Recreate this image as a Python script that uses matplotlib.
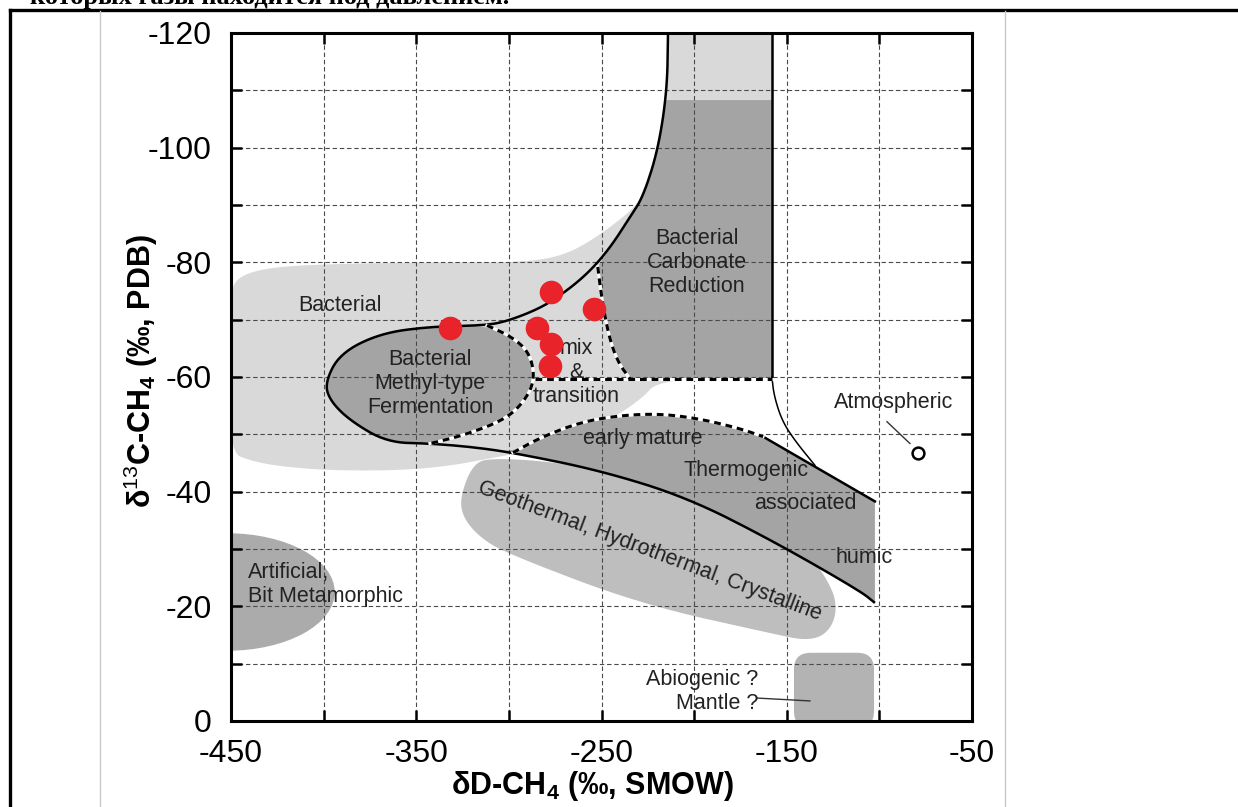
import numpy as np
import matplotlib
matplotlib.use("Agg")
import matplotlib.pyplot as plt
from matplotlib.patches import Polygon, Ellipse, FancyBboxPatch
from matplotlib.lines import Line2D

plt.rcParams['font.family'] = ['Liberation Sans', 'DejaVu Sans']
plt.rcParams['mathtext.fontset'] = 'custom'
plt.rcParams['mathtext.rm'] = 'Liberation Sans'
plt.rcParams['mathtext.bf'] = 'Liberation Sans:bold'

# ---------------- data ----------------
sample_dD = [-332, -277, -254, -285, -277, -278]
sample_d13C = [-68.6, -74.9, -71.8, -68.6, -65.7, -62.0]

x_ticks = [-450, -400, -350, -300, -250, -200, -150, -100, -50]
x_tick_labels = ['-450', '', '-350', '', '-250', '', '-150', '', '-50']
y_ticks = [-120, -110, -100, -90, -80, -70, -60, -50, -40, -30, -20, -10, 0]
y_tick_labels = ['-120', '', '-100', '', '-80', '', '-60', '', '-40', '', '-20', '', '0']

atmospheric_dD = [-79.1]
atmospheric_d13C = [-46.8]

# field outlines (dD, d13C)
bacterial_field = [(-450, -74.8), (-447.3, -76.9), (-439.7, -78.3), (-423.5, -79.3), (-385.8, -79.8),
                   (-331.8, -80.0), (-294.0, -80.0), (-272.4, -81.0), (-256.2, -83.6), (-236.0, -88.4),
                   (-227.6, -91.4), (-219.5, -99.6), (-214.6, -110.0), (-214.1, -120), (-214.1, -120),
                   (-158.0, -120), (-158.0, -120), (-158.0, -59.7), (-158.0, -59.7), (-218.4, -59.7),
                   (-229.2, -55.9), (-250.8, -51.5), (-272.4, -48.9), (-294.0, -46.8), (-310.2, -45.8),
                   (-331.8, -44.5), (-358.8, -43.7), (-396.6, -43.7), (-423.5, -44.4), (-439.7, -45.4),
                   (-450, -46.8), (-452, -60)]
carbonate_field = [(-214.9, -108.3), (-214.9, -108.3), (-158, -108.3), (-158, -108.3), (-158, -59.7),
                   (-158, -59.7), (-234.6, -59.7), (-234.6, -59.7), (-241, -62.5), (-246, -67),
                   (-250.0, -74), (-252.0, -79.2), (-252.0, -79.2), (-243.8, -83.3), (-234.6, -87.9),
                   (-227.6, -91.4), (-219.5, -99.6)]
methyl_solid = [(-311.8, -69.0), (-342.6, -68.8), (-369.6, -67.6), (-391.2, -64.1), (-399.3, -59.0),
                (-396.6, -55.9), (-385.8, -52.4), (-365.8, -48.6), (-342.6, -48.4)]
methyl_dashed = [(-311.8, -69.0), (-297.8, -66.9), (-288.6, -64.1), (-285.9, -59.4), (-292.4, -55.4),
                 (-303.2, -52.4), (-324.8, -49.8), (-342.6, -48.4)]
upper_curve = [(-214.1, -120), (-214.6, -110.0), (-219.5, -99.6), (-227.6, -91.4), (-234.6, -87.9),
               (-243.8, -83.3), (-252.4, -79.8), (-261.6, -76.9), (-272.4, -74.2), (-283.2, -72.0),
               (-299.4, -69.9), (-311.8, -69.0)]
lower_line = [(-342.6, -48.4), (-320, -47.8), (-297.8, -46.8), (-250.8, -43.7), (-203.9, -39.0),
              (-157.4, -31.4), (-110.5, -22.7), (-102.4, -20.6)]
mix_dashed = [(-252.0, -79.2), (-250.0, -74), (-246, -67), (-241, -62.5), (-234.6, -59.7)]
mix_floor = [(-285.9, -59.7), (-158, -59.7)]
early_mature_arc = [(-297.8, -46.8), (-283.2, -49.4), (-261.6, -52.1), (-240.0, -53.3), (-218.4, -53.6),
                    (-196.8, -52.7), (-175.2, -51.0), (-162.8, -49.6)]
upper_thermo_line = [(-162.8, -49.6), (-102.4, -38.3)]
column_edge = [(-158, -120), (-158, -60)]
column_curve = [(-158, -60), (-156.9, -56.8), (-152.6, -52.4), (-145.6, -48.9), (-134.8, -44.6)]
geothermal_field = [(-319.4, -44.9), (-308.6, -45.9), (-272.4, -45.1), (-196.8, -41.0), (-142.8, -31.4),
                    (-125.0, -23.2), (-122.9, -18.7), (-128.3, -15.2), (-139.1, -14.0), (-157.4, -15.2),
                    (-229.2, -20.4), (-301.0, -29.2), (-315.6, -32.0), (-324.8, -35.5), (-326.4, -39.0)]


def chaikin(pts, n=3, closed=False):
    pts = np.asarray(pts, float)
    for _ in range(n):
        P = np.vstack([pts, pts[:1]]) if closed else pts
        Q = 0.75 * P[:-1] + 0.25 * P[1:]
        R = 0.25 * P[:-1] + 0.75 * P[1:]
        new = np.empty((2 * len(Q), 2))
        new[0::2] = Q
        new[1::2] = R
        if not closed:
            new = np.vstack([pts[:1], new, pts[-1:]])
        pts = new
    return pts


LIGHT = '#d9d9d9'
DARK = '#a4a4a4'
GEO = '#bebebe'

fig = plt.figure(figsize=(12.38, 8.07), dpi=100)
ax = fig.add_axes([231 / 1238, 1 - 721 / 807, 741 / 1238, 688 / 807])
ax.set_xlim(-450, -50)
ax.set_ylim(0, -120)

# fields
ax.add_patch(Polygon(chaikin(bacterial_field, closed=True), closed=True, fc=LIGHT, ec='none', zorder=1))
ax.add_patch(Polygon(chaikin(geothermal_field, closed=True), closed=True, fc=GEO, ec='none', zorder=1.2))
thermo = early_mature_arc + [(-102.4, -38.3), (-102.4, -38.3), (-102.4, -20.6), (-102.4, -20.6)] + lower_line[::-1][1:-1]
ax.add_patch(Polygon(chaikin(thermo, closed=True), closed=True, fc=DARK, ec='none', zorder=1.4))
ax.add_patch(Polygon(chaikin(carbonate_field, closed=True), closed=True, fc=DARK, ec='none', zorder=1.4))
methyl = methyl_solid + methyl_dashed[::-1][1:-1]
ax.add_patch(Polygon(chaikin(methyl, closed=True), closed=True, fc=DARK, ec='none', zorder=1.4))
ax.add_patch(Ellipse((-452, -22.5), 116, 20.5, fc='#ababab', ec='none', zorder=1.4))
ax.add_patch(FancyBboxPatch((-146.1, -11.9), 43.2, 13.1,
                            boxstyle='round,pad=0,rounding_size=9', mutation_aspect=0.3236,
                            fc='#b3b3b3', ec='none', zorder=1.4))

# grid
ax.set_xticks(x_ticks)
ax.set_xticklabels(x_tick_labels)
ax.set_yticks(y_ticks)
ax.set_yticklabels(y_tick_labels)
ax.set_axisbelow(False)
ax.grid(True, ls=(0, (4, 2.5)), color='#4a4a4a', lw=0.8, zorder=2.5)

# solid boundaries
main_curve = list(upper_curve) + methyl_solid[1:] + lower_line[1:]
mc = chaikin(main_curve, n=3)
ax.plot(mc[:, 0], mc[:, 1], color='black', lw=1.8, zorder=3, solid_capstyle='butt')
ut = np.array(upper_thermo_line)
ax.plot(ut[:, 0], ut[:, 1], color='black', lw=1.8, zorder=3)
ce = np.array(column_edge)
ax.plot(ce[:, 0], ce[:, 1], color='black', lw=1.8, zorder=3)
cc = chaikin(column_curve, n=3)
ax.plot(cc[:, 0], cc[:, 1], color='black', lw=1.1, zorder=3)

# dashed boundaries (black dashes on white)
for seg in [methyl_dashed, mix_dashed, mix_floor, early_mature_arc]:
    s = chaikin(seg, n=3)
    ax.plot(s[:, 0], s[:, 1], color='white', lw=2.2, zorder=3)
    ax.plot(s[:, 0], s[:, 1], color='black', lw=2.2, ls=(0, (2.2, 1.6)), zorder=3.1)

# atmospheric point and leader lines
ax.plot(atmospheric_dD, atmospheric_d13C, 'o', mfc='white', mec='black', mew=1.8, ms=8.5, zorder=4)
ax.plot([-95.9, -83.5], [-52.2, -48.4], color='#333333', lw=1.0, zorder=4)
ax.plot([-166.1, -137.5], [-4.0, -3.5], color='#333333', lw=1.0, zorder=4)

# samples
ax.plot(sample_dD, sample_d13C, 'o', color='#e8232a', ms=17, mew=0, zorder=5)

# labels
fs = 15.5
tc = '#222222'
ax.text(-391.2, -72.5, 'Bacterial', fontsize=fs, color=tc, ha='center', va='center', zorder=4)
ax.text(-342.6, -58.9, 'Bacterial\nMethyl-type\nFermentation', fontsize=fs, color=tc,
        ha='center', va='center', linespacing=1.2, zorder=4)
ax.text(-263.5, -60.8, 'mix\n&\ntransition', fontsize=fs, color=tc, ha='center', va='center',
        linespacing=1.2, zorder=4)
ax.text(-198.5, -80.0, 'Bacterial\nCarbonate\nReduction', fontsize=fs, color=tc, ha='center',
        va='center', linespacing=1.2, zorder=4)
ax.text(-92.1, -55.5, 'Atmospheric', fontsize=fs, color=tc, ha='center', va='center', zorder=4)
ax.text(-227.6, -49.3, 'early mature', fontsize=fs, color=tc, ha='center', va='center', zorder=4)
ax.text(-172.0, -43.7, 'Thermogenic', fontsize=fs, color=tc, ha='center', va='center', zorder=4)
ax.text(-140.2, -37.9, 'associated', fontsize=fs, color=tc, ha='center', va='center', zorder=4)
ax.text(-108.3, -28.6, 'humic', fontsize=fs, color=tc, ha='center', va='center', zorder=4)
ax.text(-223.8, -29.7, 'Geothermal, Hydrothermal, Crystalline', fontsize=fs, color=tc,
        ha='center', va='center', rotation=-20.5, rotation_mode='anchor', zorder=4)
ax.text(-440.8, -23.8, 'Artificial,\nBit Metamorphic', fontsize=fs, color=tc, ha='left',
        va='center', linespacing=1.2, zorder=4)
ax.text(-165.5, -5.1, 'Abiogenic ?\nMantle ?', fontsize=fs, color=tc, ha='right',
        va='center', multialignment='right', linespacing=1.2, zorder=4)

# axes styling
for sp in ax.spines.values():
    sp.set_linewidth(2.2)
    sp.set_zorder(6)
ax.tick_params(axis='both', which='both', direction='in', top=True, right=True,
               length=8, width=1.8, labelsize=23, colors='black')
ax.tick_params(axis='x', pad=13)
ax.tick_params(axis='y', pad=14)

ax.set_xlabel(r'δD-CH$_\mathbf{4}$ (‰, SMOW)', fontsize=22, fontweight='bold')
ax.xaxis.set_label_coords((592 - 231) / 741, -(786 - 721) / 688)
ax.xaxis.label.set_va('center')
ax.set_ylabel(r'δ$^{13}$C-CH$_\mathbf{4}$ (‰, PDB)', fontsize=22, fontweight='bold')
ax.yaxis.set_label_coords(-(231 - 141) / 741, (721 - 371) / 688)
ax.yaxis.label.set_va('center')

# page frame elements
fig.add_artist(Line2D([10 / 1238, 1], [1 - 10 / 807] * 2, color='black', lw=2.4))
fig.add_artist(Line2D([10 / 1238] * 2, [0, 1 - 10 / 807], color='black', lw=2.4))
fig.add_artist(Line2D([100 / 1238] * 2, [0, 1 - 11 / 807], color='#c8c8c8', lw=1.0))
fig.add_artist(Line2D([1005 / 1238] * 2, [0, 1 - 11 / 807], color='#c8c8c8', lw=1.0))
fig.text(30 / 1238, 1 - 4 / 807, 'которых газы находится под давлением.', fontsize=19,
         fontweight='bold', family=['Liberation Serif', 'DejaVu Serif'], va='baseline', ha='left')

fig.savefig('out.png', dpi=100)
